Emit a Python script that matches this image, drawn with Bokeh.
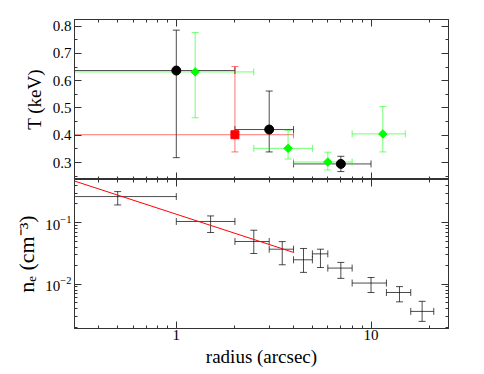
import math
from bokeh.plotting import figure
from bokeh.layouts import column
from bokeh.models import (LogAxis, LinearAxis, FixedTicker, LogTickFormatter,
                          Range1d, ColumnDataSource)
from bokeh.embed import file_html
from bokeh.resources import INLINE

# ---------------- data ----------------
# Temperature profile, black circles
bk_r = [1.0, 3.0, 7.0]
bk_rlo = [0.01, 2.0, 4.0]
bk_rhi = [2.0, 4.0, 10.0]
bk_T = [0.637, 0.421, 0.295]
bk_Tlo = [0.318, 0.339, 0.267]
bk_Thi = [0.785, 0.562, 0.323]

# red square
rd_r = [2.0]
rd_rlo = [0.01]
rd_rhi = [4.0]
rd_T = [0.402]
rd_Tlo = [0.339]
rd_Thi = [0.652]

# green diamonds
gr_r = [1.25, 3.75, 6.0, 11.5]
gr_rlo = [0.01, 2.5, 4.0, 8.0]
gr_rhi = [2.5, 5.0, 8.0, 15.0]
gr_T = [0.632, 0.352, 0.302, 0.405]
gr_Tlo = [0.464, 0.313, 0.273, 0.339]
gr_Thi = [0.776, 0.418, 0.338, 0.505]

# electron density profile
ne_r = [0.5, 1.5, 2.5, 3.5, 4.5, 5.5, 7.0, 10.0, 14.0, 18.3]
ne_rlo = [0.01, 1.0, 2.0, 3.0, 4.0, 5.0, 6.0, 8.0, 12.0, 16.0]
ne_rhi = [1.0, 2.0, 3.0, 4.0, 5.0, 6.0, 8.0, 12.0, 16.0, 21.0]
ne_val = [0.264, 0.104, 0.0492, 0.0369, 0.0248, 0.031, 0.0182, 0.0104, 0.0073, 0.0036]
ne_lo = [0.193, 0.0689, 0.0314, 0.0206, 0.0155, 0.0186, 0.0124, 0.0073, 0.00515, 0.00248]
ne_hi = [0.318, 0.128, 0.075, 0.049, 0.0379, 0.0369, 0.0225, 0.0128, 0.0091, 0.00525]

# power-law model
model_r = [0.3, 4.0]
model_ne = [0.472, 0.0327]

# ticks
x_major = [1, 10]
x_minor = [0.3, 0.4, 0.5, 0.6, 0.7, 0.8, 0.9, 2, 3, 4, 5, 6, 7, 8, 9, 20]
T_major = [0.3, 0.4, 0.5, 0.6, 0.7, 0.8]
T_minor = [0.25, 0.35, 0.45, 0.55, 0.65, 0.75]
ne_major = [0.01, 0.1]
ne_minor = [0.002, 0.003, 0.004, 0.005, 0.006, 0.007, 0.008, 0.009,
            0.02, 0.03, 0.04, 0.05, 0.06, 0.07, 0.08, 0.09,
            0.2, 0.3, 0.4, 0.5]

FONT = "Liberation Serif"
XR = (0.3, 25.0)
TR = (0.238, 0.824)
NR = (0.0019, 0.5)


def style_axis(ax, show_labels, tick_font="15px"):
    ax.major_tick_in = 7
    ax.major_tick_out = 0
    ax.minor_tick_in = 3
    ax.minor_tick_out = 0
    ax.axis_line_color = "#333333"
    ax.major_tick_line_color = "#333333"
    ax.minor_tick_line_color = "#333333"
    ax.major_label_text_font = FONT
    ax.major_label_text_color = "black"
    ax.axis_label_text_font = FONT
    ax.axis_label_text_font_style = "normal"
    ax.axis_label_text_color = "black"
    ax.axis_label_text_font_size = "19px"
    if show_labels:
        ax.major_label_text_font_size = tick_font
        ax.major_label_standoff = 3
    else:
        ax.major_label_text_font_size = "1px"
        ax.major_label_text_alpha = 0.0
        ax.major_label_standoff = 0


def errbars(p, r, rlo, rhi, v, vlo, vhi, color, alpha):
    src = ColumnDataSource(dict(r=r, rlo=rlo, rhi=rhi, v=v, vlo=vlo, vhi=vhi))
    p.segment(x0="rlo", y0="v", x1="rhi", y1="v", source=src,
              line_color=color, line_width=1, line_alpha=alpha)
    p.segment(x0="r", y0="vlo", x1="r", y1="vhi", source=src,
              line_color=color, line_width=1, line_alpha=alpha)
    for xc, yc, ang in (("rlo", "v", math.pi / 2), ("rhi", "v", math.pi / 2),
                        ("r", "vlo", 0.0), ("r", "vhi", 0.0)):
        p.scatter(x=xc, y=yc, source=src, marker="dash", size=7, angle=ang,
                  line_color=color, line_width=1, line_alpha=alpha)
    return src


# ---------------- top panel ----------------
top = figure(output_backend="svg", toolbar_location=None,
             x_axis_type="log", y_axis_type="linear",
             x_axis_location=None, y_axis_location=None,
             x_range=Range1d(*XR), y_range=Range1d(*TR),
             frame_width=374, frame_height=160,
             min_border_left=74, min_border_right=10,
             min_border_top=19, min_border_bottom=0,
             background_fill_color="white", border_fill_color="white",
             outline_line_color="#333333")
top.grid.visible = False

xt = FixedTicker(ticks=x_major, minor_ticks=x_minor)
tt = FixedTicker(ticks=T_major, minor_ticks=T_minor)

ax_l = LinearAxis(ticker=tt, axis_label="T (keV)", axis_label_standoff=5)
style_axis(ax_l, True)
top.add_layout(ax_l, "left")
ax_r = LinearAxis(ticker=tt)
style_axis(ax_r, False)
top.add_layout(ax_r, "right")
ax_a = LogAxis(ticker=xt)
style_axis(ax_a, False)
top.add_layout(ax_a, "above")
ax_b = LogAxis(ticker=xt)
style_axis(ax_b, False)
top.add_layout(ax_b, "below")

errbars(top, bk_r, bk_rlo, bk_rhi, bk_T, bk_Tlo, bk_Thi, "black", 0.7)
errbars(top, rd_r, rd_rlo, rd_rhi, rd_T, rd_Tlo, rd_Thi, "red", 0.55)
errbars(top, gr_r, gr_rlo, gr_rhi, gr_T, gr_Tlo, gr_Thi, "#00ff00", 0.55)
top.scatter(bk_r, bk_T, marker="circle", size=9, fill_color="black", line_color="black")
top.scatter(rd_r, rd_T, marker="square", size=8, fill_color="red", line_color="red")
top.scatter(gr_r, gr_T, marker="square", size=6, angle=math.pi / 4,
            fill_color="#00ff00", line_color="#00ff00")

# ---------------- bottom panel ----------------
bot = figure(output_backend="svg", toolbar_location=None,
             x_axis_type="log", y_axis_type="log",
             x_axis_location=None, y_axis_location=None,
             x_range=Range1d(*XR), y_range=Range1d(*NR),
             frame_width=374, frame_height=149,
             min_border_left=74, min_border_right=10,
             min_border_top=0, min_border_bottom=30,
             background_fill_color="white", border_fill_color="white",
             outline_line_color="#333333")
bot.grid.visible = False

nt = FixedTicker(ticks=ne_major, minor_ticks=ne_minor)
bl = LogAxis(ticker=nt, formatter=LogTickFormatter(),
             axis_label="n\u2091 (cm\u207b\u00b3)", axis_label_standoff=3)
style_axis(bl, True)
bl.axis_label_text_font_size = "22px"
bot.add_layout(bl, "left")
br = LogAxis(ticker=nt)
style_axis(br, False)
bot.add_layout(br, "right")
ba = LogAxis(ticker=xt)
style_axis(ba, False)
bot.add_layout(ba, "above")
bb = LogAxis(ticker=xt, axis_label="radius (arcsec)", axis_label_standoff=3,
             major_label_overrides={1: "1", 10: "10"})
style_axis(bb, True)
bb.major_label_standoff = 1
bot.add_layout(bb, "below")

errbars(bot, ne_r, ne_rlo, ne_rhi, ne_val, ne_lo, ne_hi, "black", 0.7)
bot.line(model_r, model_ne, line_color="red", line_width=1)

layout = column(top, bot, spacing=0)
open("out.html", "w").write(file_html(layout, INLINE))
